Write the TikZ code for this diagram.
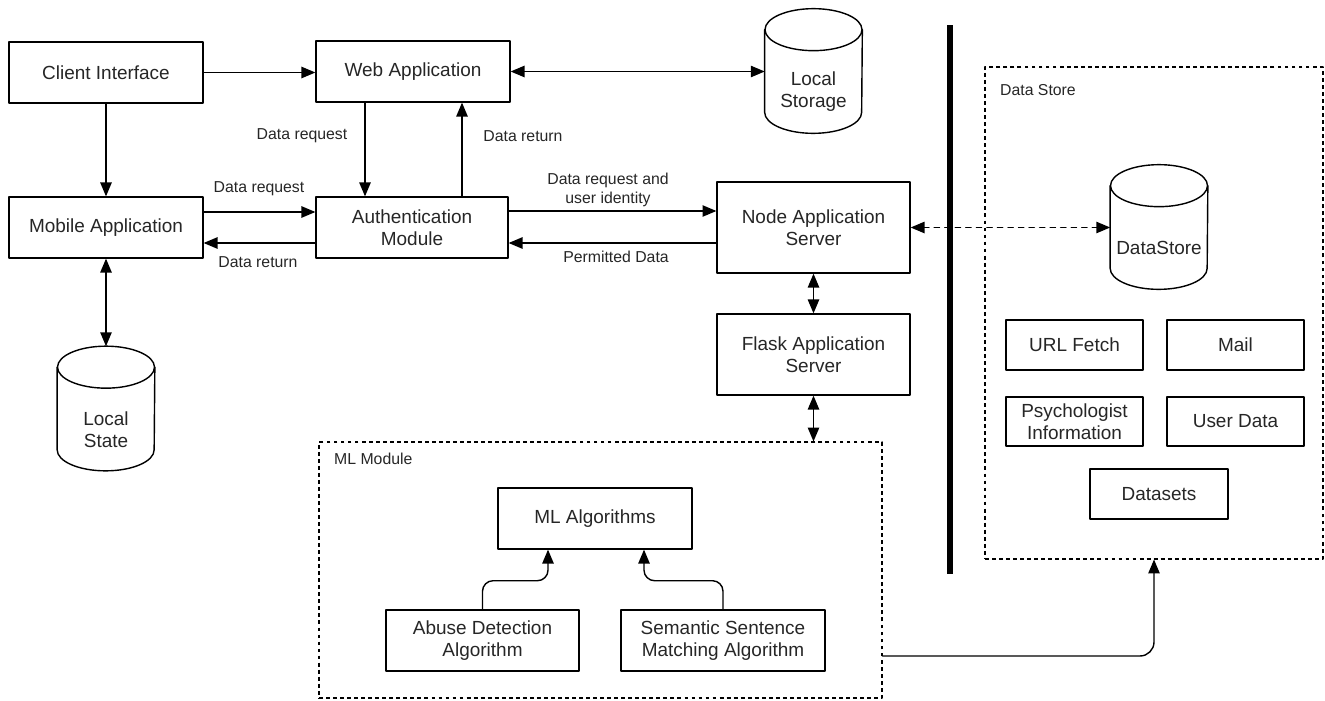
\documentclass[tikz,border=0pt]{standalone}
\usepackage{fontspec}
\setmainfont{Liberation Sans}
\usetikzlibrary{arrows,calc}

\begin{document}
\begin{tikzpicture}[line cap=round,line join=round,>=triangle 45,x=0.02cm,y=0.02cm,
    box/.style={draw,line width=0.8pt,minimum width=3.88cm,minimum height=1.22cm,inner sep=1pt,align=center,text=black!85,font=\fontsize{10.8}{12.5}\selectfont},
    store/.style={minimum width=1.94cm,minimum height=1.64cm,inner sep=0pt,align=center,text=black!85,font=\fontsize{10.8}{12.5}\selectfont},
    group/.style={draw,line width=0.7pt,line cap=butt,dash pattern=on 2.2pt off 1.8pt,inner sep=0pt},
    lbl/.style={align=center,text=black!85,font=\fontsize{9}{10.8}\selectfont},
    link/.style={line width=0.8pt}]
    \useasboundingbox (0,0) rectangle (1325,-700);
    % groups
    \node[group,minimum width=11.26cm,minimum height=5.12cm] (mlmod) at (600.5,-570) {};
    \node[group,minimum width=6.76cm,minimum height=9.84cm] (dsgroup) at (1154,-313) {};
    \node[lbl,anchor=west] (mltitle) at (328,-459) {ML Module};
    \node[lbl,anchor=west] (dstitle) at (994,-90) {Data Store};
    \draw [line width=3.4pt,line cap=butt] (950,-25) -- (950,-574);
    % boxes
    \node[box] (client) at (106,-72.5) {Client Interface};
    \node[box] (web) at (413,-71.5) {Web Application};
    \node[box] (mobile) at (106,-227.5) {Mobile Application};
    \node[box,minimum width=3.84cm] (auth) at (412,-227.5) {Authentication\\Module};
    \node[box,minimum width=3.86cm,minimum height=1.82cm] (node) at (813.5,-227.5) {Node Application\\Server};
    \node[box,minimum width=3.86cm,minimum height=1.62cm] (flask) at (813.5,-354.5) {Flask Application\\Server};
    \node[box] (mlalg) at (595,-518.5) {ML Algorithms};
    \node[box,minimum width=3.86cm] (abuse) at (482.5,-640.5) {Abuse Detection\\Algorithm};
    \node[box,minimum width=4.08cm] (semantic) at (723,-640.5) {Semantic Sentence\\Matching Algorithm};
    \node[box,minimum width=2.74cm,minimum height=1cm] (urlfetch) at (1074.5,-345) {URL Fetch};
    \node[box,minimum width=2.74cm,minimum height=1cm] (mail) at (1235.5,-345) {Mail};
    \node[box,minimum width=2.74cm,minimum height=0.98cm] (psych) at (1074.5,-421.5) {Psychologist\\Information};
    \node[box,minimum width=2.74cm,minimum height=0.98cm] (userdata) at (1235.5,-421.5) {User Data};
    \node[box,minimum width=2.76cm,minimum height=1cm] (datasets) at (1159,-494) {Datasets};
    % cylinders
    \node[store] (lstore) at (813.5,-92) {Local\\Storage};
    \node[store] (lstate) at (106,-429.5) {Local\\State};
    \node[store] (dstore) at (1159,-248) {DataStore};
    \foreach \c in {lstore,lstate,dstore}{
        \draw [line width=0.8pt] ($(\c.north)+(0,21)$) ellipse [x radius=48.5,y radius=21];
        \draw [line width=0.8pt] ($(\c.north west)+(0,21)$) -- ($(\c.south west)+(0,21)$)
            arc [start angle=180,end angle=360,x radius=48.5,y radius=21] -- ($(\c.north east)+(0,21)$);
    }
    \coordinate (lstatetop) at ($(lstate.north)+(0,42)$);
    % connectors
    \draw [link,->] (client.east) -- (client.east -| web.west);
    \draw [link,<->] (web.east) -- (web.east -| lstore.west);
    \draw [link,->] (client.south) -- (mobile.north);
    \draw [link,<->] (mobile.south) -- (lstatetop);
    \draw [link,->] ($(web.south)+(-48,0)$) -- ($(auth.north)+(-47,0)$);
    \draw [link,->] ($(auth.north)+(50,0)$) -- ($(web.south)+(49,0)$);
    \draw [link,->] ($(mobile.east)+(0,15.5)$) -- ($(auth.west)+(0,15.5)$);
    \draw [link,->] ($(auth.west)+(0,-15.5)$) -- ($(mobile.east)+(0,-15.5)$);
    \draw [link,->] ($(auth.east)+(0,16.5)$) -- ($(node.west)+(0,16.5)$);
    \draw [link,->] ($(node.west)+(0,-15.5)$) -- ($(auth.east)+(0,-15.5)$);
    \draw [link,<->] (node.south) -- (flask.north);
    \draw [link,<->] (flask.south) -- (flask.south |- mlmod.north);
    \draw [link,<->,dash pattern=on 3pt off 3pt] (node.east) -- (node.east -| dstore.west);
    \draw [link,->,rounded corners=6] (abuse.north) |- ($(mlalg.south)+(-47,-31)$) -- ($(mlalg.south)+(-47,0)$);
    \draw [link,->,rounded corners=6] (semantic.north) |- ($(mlalg.south)+(49,-31)$) -- ($(mlalg.south)+(49,0)$);
    \draw [link,->,rounded corners=8] ($(mlmod.east)+(0,-86)$) -| (dsgroup.south);
    % labels
    \node[lbl] (reqweb) at (302,-136) {Data request};
    \node[lbl] (retweb) at (523,-136) {Data return};
    \node[lbl] (reqmob) at (259,-189) {Data request};
    \node[lbl] (retmob) at (258,-262) {Data return};
    \node[lbl] (reqnode) at (608,-189.5) {Data request and\\user identity};
    \node[lbl] (permnode) at (616,-257) {Permitted Data};
\end{tikzpicture}
\end{document}
